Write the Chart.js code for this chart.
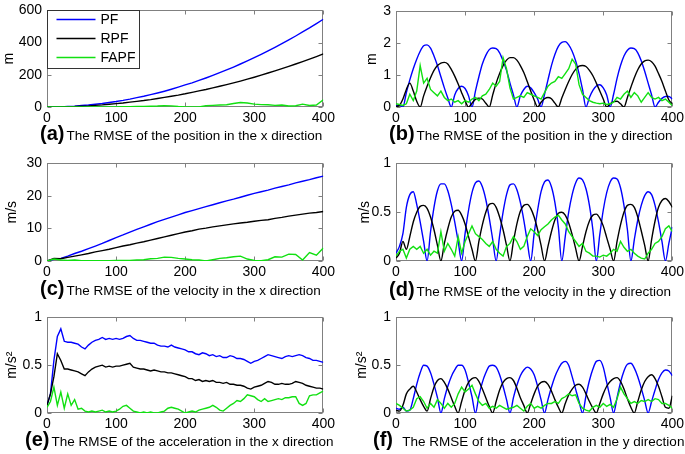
<!DOCTYPE html>
<html>
<head>
<meta charset="utf-8">
<script src="https://cdn.jsdelivr.net/npm/chart.js@4.4.1/dist/chart.umd.min.js"></script>
<style>
  body { margin: 0; background: #fff; width: 685px; height: 454px; position: relative; overflow: hidden; }
  canvas { position: absolute; }
  .cap { position: absolute; white-space: nowrap; line-height: 20px; font-family: "Liberation Sans", Arial, sans-serif; font-size: 13.5px; color: #000; }
  .cap b { font-size: 20px; margin-right: 2px; }
</style>
</head>
<body>
<canvas id="cA"></canvas>
<canvas id="cB"></canvas>
<canvas id="cC"></canvas>
<canvas id="cD"></canvas>
<canvas id="cE"></canvas>
<canvas id="cF"></canvas>

<div class="cap" style="left:40px;top:123px"><b>(a)</b>The RMSE of the position in the x direction</div>
<div class="cap" style="left:389px;top:123px"><b>(b)</b>The RMSE of the position in the y direction</div>
<div class="cap" style="left:40px;top:278px"><b>(c)</b>The RMSE of the velocity in the x direction</div>
<div class="cap" style="left:389px;top:279px"><b>(d)</b>The RMSE of the velocity in the y direction</div>
<div class="cap" style="left:25px;top:429px"><b>(e)</b>The RMSE of the acceleration in the x direction</div>
<div class="cap" style="left:373px;top:429px"><b>(f)</b>&nbsp; The RMSE of the acceleration in the y direction</div>

<script>
// time steps
const xCoarse = [0,10,20,30,40,50,60,70,80,90,
  100,110,120,130,140,150,160,170,180,190,
  200,210,220,230,240,250,260,270,280,290,
  300,310,320,330,340,350,360,370,380,390,
  400];
const xFine = [0,5,10,15,20,25,30,35,40,45,
  50,55,60,65,70,75,80,85,90,95,
  100,105,110,115,120,125,130,135,140,145,
  150,155,160,165,170,175,180,185,190,195,
  200,205,210,215,220,225,230,235,240,245,
  250,255,260,265,270,275,280,285,290,295,
  300,305,310,315,320,325,330,335,340,345,
  350,355,360,365,370,375,380,385,390,395,
  400];
const xTicks = [0, 100, 200, 300, 400];

const methods = ['PF', 'RPF', 'FAPF'];
const colors = ['#0000ff', '#000000', '#11e011'];

// (a) position x  (m)
const pfPosX = [0,0,1,3,5,9,12,17,22,28, 34,41,49,58,67,77,87,98,110,123,
  137,150,165,180,196,213,230,248,267,286, 306,327,349,371,394,417,441,466,491,518, 545];
const rpfPosX = [0,0,1,2,3,5,7,10,13,17, 21,25,30,35,40,46,53,60,67,74,
  82,91,100,109,119,129,139,150,161,173, 185,198,211,224,238,252,267,282,297,313, 330];
const fapfPosX = [0,0,0,0,0,0,0,0,1,1, 1,2,2,3,3,5,6,8,7,3,
  1,0,1,8,10,12,14,22,28,25, 18,15,14,10,12,6,8,18,9,12, 45];
const yTicksA = [0, 200, 400, 600];

// (b) position y  (m)
const pfPosY = [0.05,0.05,0.0,0.45,0.85,1.2,1.5,1.75,1.92,1.95,
  1.85,1.6,1.3,0.95,0.6,0.28,0.0,0.38,0.58,0.65,
  0.58,0.35,0.0,0.5,0.95,1.35,1.62,1.8,1.85,1.83,
  1.7,1.45,1.15,0.75,0.38,0.0,0.35,0.55,0.65,0.6,
  0.45,0.25,0.0,0.4,0.85,1.3,1.65,1.9,2.03,2.05,
  1.95,1.75,1.45,1.05,0.55,0.0,0.3,0.52,0.66,0.7,
  0.6,0.38,0.0,0.4,0.9,1.3,1.6,1.78,1.85,1.83,
  1.7,1.45,1.12,0.75,0.38,0.0,0.15,0.27,0.33,0.33,
  0.25];
const rpfPosY = [0.02,0.05,0.25,0.55,0.75,0.5,0.18,0.0,0.35,0.65,
  0.92,1.15,1.3,1.38,1.4,1.35,1.18,0.97,0.72,0.45,
  0.2,0.0,0.12,0.24,0.28,0.25,0.12,0.0,0.38,0.75,
  1.05,1.3,1.47,1.55,1.55,1.47,1.3,1.08,0.8,0.5,
  0.22,0.0,0.15,0.26,0.3,0.26,0.12,0.0,0.28,0.55,
  0.8,1.02,1.18,1.28,1.3,1.27,1.15,0.98,0.75,0.5,
  0.25,0.0,0.1,0.17,0.18,0.1,0.0,0.3,0.62,0.92,
  1.17,1.35,1.45,1.47,1.42,1.28,1.05,0.8,0.5,0.22,
  0.1];
const fapfPosY = [0.1,0.08,0.05,0.1,0.4,0.2,0.5,1.3,0.75,0.9,
  0.55,0.45,0.35,0.5,0.3,0.2,0.25,0.15,0.2,0.1,
  0.2,0.15,0.25,0.3,0.2,0.35,0.4,0.55,0.75,0.65,
  0.8,1.55,1.2,0.6,0.25,0.3,0.35,0.3,0.45,0.4,
  0.35,0.3,0.25,0.45,0.65,0.75,0.8,0.95,0.9,1.05,
  1.2,1.5,1.35,0.7,0.4,0.3,0.2,0.15,0.12,0.1,
  0.12,0.08,0.1,0.15,0.3,0.25,0.4,0.5,0.3,0.45,
  0.35,0.15,0.3,0.45,0.3,0.25,0.3,0.2,0.25,0.15,
  0.05];
const yTicksB = [0, 1, 2, 3];

// (c) velocity x  (m/s)
const pfVelX = [0,0.5,0.8,1.5,2.3,3.0,3.8,4.6,5.4,6.3, 7.2,8.0,8.9,9.7,10.5,11.3,12.1,12.8,13.5,14.2,
  14.9,15.5,16.1,16.7,17.3,17.9,18.5,19.0,19.6,20.2, 20.8,21.3,21.8,22.4,22.9,23.4,24.0,24.5,25.0,25.6, 26.1];
const rpfVelX = [0,0.8,0.7,1.1,1.5,1.9,2.3,2.8,3.2,3.6, 4.1,4.6,5.0,5.5,5.9,6.4,6.9,7.4,7.9,8.4,
  8.9,9.3,9.8,10.1,10.5,10.8,11.1,11.4,11.7,11.9, 12.2,12.5,12.7,13.1,13.4,13.8,14.1,14.4,14.7,14.9, 15.2];
const fapfVelX = [0,0.6,0.3,0.2,0.3,0.1,0.1,0.1,0.1,0.1, 0.2,0.2,0.2,0.3,0.4,0.7,0.8,1.2,1.1,0.8,
  0.6,0.4,0.3,0.0,0.4,0.8,1.0,1.3,1.5,0.6, 0.2,0.1,0.4,1.3,1.2,2.1,2.0,0.3,2.6,1.8, 4.0];
const yTicksC = [0, 10, 20, 30];

// (d) velocity y  (m/s)
const pfVelY = [0.08,0.15,0.28,0.55,0.68,0.71,0.58,0.4,0.2,0.0,
  0.3,0.55,0.72,0.79,0.79,0.72,0.58,0.4,0.2,0.0,
  0.28,0.52,0.7,0.8,0.82,0.76,0.63,0.44,0.22,0.0,
  0.26,0.5,0.68,0.78,0.79,0.73,0.6,0.42,0.2,0.0,
  0.28,0.52,0.71,0.81,0.83,0.76,0.6,0.35,0.0,0.25,
  0.5,0.68,0.8,0.85,0.83,0.74,0.57,0.32,0.0,0.27,
  0.52,0.7,0.81,0.85,0.84,0.75,0.57,0.32,0.0,0.22,
  0.42,0.57,0.67,0.71,0.68,0.57,0.4,0.2,0.0,0.18,
  0.35];
const rpfVelY = [0.03,0.08,0.2,0.12,0.25,0.4,0.5,0.56,0.57,0.54,
  0.45,0.32,0.16,0.0,0.18,0.33,0.45,0.51,0.52,0.47,
  0.38,0.25,0.12,0.0,0.2,0.37,0.5,0.58,0.59,0.55,
  0.45,0.32,0.16,0.0,0.2,0.38,0.51,0.57,0.58,0.54,
  0.45,0.32,0.16,0.0,0.15,0.3,0.42,0.49,0.5,0.47,
  0.39,0.27,0.13,0.0,0.15,0.3,0.41,0.47,0.48,0.44,
  0.36,0.24,0.12,0.0,0.2,0.37,0.5,0.57,0.58,0.55,
  0.45,0.31,0.16,0.0,0.22,0.41,0.55,0.62,0.64,0.61,
  0.55];
const fapfVelY = [0.05,0.1,0.12,0.03,0.12,0.15,0.12,0.15,0.08,0.12,
  0.06,0.1,0.08,0.3,0.1,0.18,0.12,0.05,0.25,0.08,
  0.2,0.28,0.36,0.28,0.25,0.22,0.18,0.15,0.2,0.12,
  0.08,0.05,0.15,0.18,0.25,0.2,0.12,0.15,0.25,0.33,
  0.3,0.26,0.32,0.35,0.38,0.42,0.45,0.47,0.42,0.38,
  0.3,0.25,0.2,0.15,0.18,0.1,0.08,0.05,0.05,0.04,
  0.06,0.05,0.08,0.12,0.1,0.2,0.14,0.1,0.12,0.08,
  0.05,0.03,0.02,0.08,0.12,0.18,0.2,0.25,0.33,0.36,
  0.3];
const yTicksUnit = [0, 0.5, 1];

// (e) acceleration x  (m/s^2)
const pfAccX = [0.08,0.2,0.55,0.8,0.88,0.75,0.74,0.74,0.73,0.72,
  0.69,0.67,0.71,0.74,0.76,0.77,0.79,0.77,0.78,0.77,
  0.78,0.77,0.78,0.8,0.81,0.78,0.76,0.76,0.75,0.74,
  0.73,0.73,0.71,0.7,0.7,0.69,0.71,0.69,0.68,0.67,
  0.66,0.64,0.64,0.62,0.61,0.63,0.62,0.6,0.61,0.59,
  0.6,0.58,0.58,0.6,0.59,0.57,0.57,0.56,0.54,0.52,
  0.54,0.55,0.57,0.59,0.61,0.6,0.59,0.58,0.57,0.59,
  0.6,0.59,0.6,0.61,0.6,0.58,0.57,0.55,0.55,0.54,
  0.53];
const rpfAccX = [0.08,0.2,0.38,0.62,0.55,0.46,0.46,0.45,0.44,0.43,
  0.41,0.39,0.43,0.46,0.48,0.49,0.5,0.48,0.49,0.48,
  0.49,0.49,0.5,0.51,0.52,0.48,0.47,0.46,0.46,0.45,
  0.44,0.45,0.44,0.43,0.43,0.42,0.42,0.41,0.4,0.39,
  0.38,0.36,0.36,0.34,0.35,0.33,0.34,0.33,0.34,0.32,
  0.32,0.31,0.32,0.3,0.3,0.29,0.29,0.28,0.26,0.25,
  0.27,0.28,0.29,0.31,0.33,0.32,0.3,0.3,0.31,0.3,
  0.3,0.31,0.33,0.32,0.31,0.29,0.28,0.27,0.26,0.26,
  0.25];
const fapfAccX = [0.06,0.12,0.27,0.08,0.22,0.05,0.2,0.08,0.14,0.04,
  0.05,0.02,0.01,0.02,0.01,0.02,0.03,0.01,0.02,0.01,
  0.02,0.04,0.07,0.08,0.05,0.02,0.01,0.0,0.01,0.0,
  0.01,0.0,0.0,0.01,0.02,0.05,0.06,0.05,0.04,0.02,
  0.0,0.01,0.02,0.01,0.03,0.04,0.05,0.06,0.08,0.06,
  0.03,0.02,0.05,0.08,0.1,0.13,0.12,0.15,0.19,0.18,
  0.17,0.14,0.12,0.15,0.12,0.13,0.14,0.15,0.14,0.16,
  0.16,0.17,0.17,0.1,0.08,0.1,0.18,0.19,0.19,0.21,
  0.23];

// (f) acceleration y  (m/s^2)
const pfAccY = [0.05,0.04,0.06,0.02,0.03,0.15,0.3,0.42,0.5,0.49,
  0.42,0.3,0.16,0.0,0.15,0.28,0.38,0.45,0.5,0.5,
  0.45,0.32,0.17,0.0,0.18,0.32,0.42,0.49,0.5,0.48,
  0.4,0.28,0.14,0.0,0.16,0.29,0.39,0.45,0.48,0.46,
  0.4,0.28,0.14,0.0,0.14,0.27,0.38,0.46,0.52,0.54,
  0.5,0.38,0.25,0.12,0.0,0.18,0.34,0.46,0.54,0.55,
  0.48,0.32,0.16,0.0,0.16,0.32,0.44,0.51,0.52,0.47,
  0.38,0.26,0.13,0.0,0.12,0.24,0.35,0.42,0.45,0.44,
  0.39];
const rpfAccY = [0.03,0.02,0.08,0.2,0.25,0.28,0.22,0.14,0.07,0.02,
  0.15,0.27,0.34,0.36,0.32,0.25,0.16,0.07,0.0,0.12,
  0.24,0.32,0.36,0.37,0.33,0.25,0.16,0.07,0.0,0.12,
  0.24,0.32,0.36,0.37,0.34,0.26,0.16,0.08,0.0,0.1,
  0.2,0.28,0.32,0.33,0.3,0.23,0.14,0.06,0.0,0.1,
  0.19,0.25,0.29,0.3,0.27,0.2,0.12,0.05,0.0,0.1,
  0.2,0.28,0.33,0.36,0.37,0.33,0.25,0.15,0.06,0.0,
  0.12,0.24,0.33,0.38,0.4,0.36,0.28,0.17,0.06,0.05,
  0.18];
const fapfAccY = [0.1,0.08,0.05,0.02,0.03,0.06,0.15,0.17,0.12,0.05,
  0.1,0.06,0.14,0.1,0.05,0.1,0.06,0.1,0.2,0.27,
  0.22,0.25,0.29,0.2,0.12,0.08,0.1,0.05,0.07,0.05,
  0.08,0.06,0.04,0.05,0.06,0.08,0.05,0.02,0.07,0.1,
  0.05,0.07,0.05,0.08,0.1,0.1,0.12,0.1,0.15,0.17,
  0.2,0.18,0.19,0.1,0.05,0.03,0.02,0.06,0.08,0.06,
  0.1,0.07,0.09,0.06,0.15,0.27,0.2,0.15,0.1,0.12,
  0.1,0.13,0.12,0.14,0.12,0.15,0.14,0.1,0.1,0.08,
  0.05];

const FONT = '"Liberation Sans", Arial, sans-serif';

// MATLAB-like frame with inward ticks
const frameBox = {
  id: 'frameBox',
  beforeDatasetsDraw(chart) {
    const { ctx, chartArea: a, scales: { x, y } } = chart;
    const L = Math.round(a.left) + 0.5, R = Math.round(a.right) - 0.5;
    const T = Math.round(a.top) + 0.5, B = Math.round(a.bottom) - 0.5;
    ctx.save();
    ctx.strokeStyle = '#808080';
    ctx.lineWidth = 1;
    ctx.strokeRect(L, T, R - L, B - T);
    ctx.beginPath();
    x.ticks.forEach(t => {
      const px = Math.round(x.getPixelForValue(t.value)) + 0.5;
      ctx.moveTo(px, B); ctx.lineTo(px, B - 4);
      ctx.moveTo(px, T); ctx.lineTo(px, T + 4);
    });
    y.ticks.forEach(t => {
      const py = Math.round(y.getPixelForValue(t.value)) + 0.5;
      ctx.moveTo(L, py); ctx.lineTo(L + 4, py);
      ctx.moveTo(R, py); ctx.lineTo(R - 4, py);
    });
    ctx.stroke();
    ctx.restore();
  }
};

const legendBox = {
  id: 'legendBox',
  afterDatasetsDraw(chart, args, opts) {
    if (!opts.show) return;
    const { ctx, chartArea: a } = chart;
    const x0 = Math.round(a.left) + 0.5, y0 = Math.round(a.top) + 0.5;
    ctx.save();
    ctx.fillStyle = '#fff';
    ctx.fillRect(x0, y0, 92, 58);
    ctx.strokeStyle = '#333';
    ctx.lineWidth = 1;
    ctx.strokeRect(x0, y0, 92, 58);
    ctx.font = '14px ' + FONT;
    ctx.textBaseline = 'middle';
    chart.data.datasets.forEach((ds, i) => {
      const yy = y0 + 9 + i * 19;
      ctx.strokeStyle = ds.borderColor;
      ctx.lineWidth = 1.5;
      ctx.beginPath();
      ctx.moveTo(x0 + 9, yy);
      ctx.lineTo(x0 + 48, yy);
      ctx.stroke();
      ctx.fillStyle = '#000';
      ctx.fillText(ds.label, x0 + 53, yy + 1);
    });
    ctx.restore();
  }
};

const panels = [
  { id: 'cA', left: 47, right: 324, top: 6, bottom: 107, axisW: 46, unit: 'm', yTicks: yTicksA, xs: xCoarse, series: [pfPosX, rpfPosX, fapfPosX], legend: true, smooth: false },
  { id: 'cB', left: 396, right: 673, top: 7, bottom: 107, axisW: 32, unit: 'm', yTicks: yTicksB, xs: xFine, series: [pfPosY, rpfPosY, fapfPosY], smooth: true },
  { id: 'cC', left: 47, right: 324, top: 159, bottom: 261, axisW: 43, unit: 'm/s', yTicks: yTicksC, xs: xCoarse, series: [pfVelX, rpfVelX, fapfVelX], smooth: false },
  { id: 'cD', left: 396, right: 673, top: 159, bottom: 261, axisW: 39, unit: 'm/s', yTicks: yTicksUnit, xs: xFine, series: [pfVelY, rpfVelY, fapfVelY], smooth: true },
  { id: 'cE', left: 47, right: 324, top: 313, bottom: 413, axisW: 43, unit: 'm/s²', yTicks: yTicksUnit, xs: xFine, series: [pfAccX, rpfAccX, fapfAccX], smooth: false },
  { id: 'cF', left: 396, right: 673, top: 313, bottom: 413, axisW: 42, unit: 'm/s²', yTicks: yTicksUnit, xs: xFine, series: [pfAccY, rpfAccY, fapfAccY], smooth: true }
];

const PAD_TOP = 9, PAD_RIGHT = 14, X_AXIS_H = 22;

panels.forEach(p => {
  const cv = document.getElementById(p.id);
  const w = p.right - p.left + p.axisW + PAD_RIGHT;
  const h = p.bottom - p.top + PAD_TOP + X_AXIS_H;
  cv.width = w; cv.height = h;
  cv.style.left = (p.left - p.axisW) + 'px';
  cv.style.top = (p.top - PAD_TOP) + 'px';

  const datasets = p.series.map((arr, i) => ({
    label: methods[i],
    data: p.xs.map((x, j) => ({ x: x, y: arr[j] })),
    borderColor: colors[i],
    borderWidth: 1.4,
    pointRadius: 0,
    cubicInterpolationMode: (p.smooth && i < 2) ? 'monotone' : 'default',
    tension: 0,
    order: 3 - i
  }));

  new Chart(cv, {
    type: 'line',
    data: { datasets },
    options: {
      responsive: false,
      animation: false,
      layout: { padding: { top: PAD_TOP, right: PAD_RIGHT, left: 0, bottom: 0 } },
      plugins: {
        legend: { display: false },
        tooltip: { enabled: false },
        legendBox: { show: !!p.legend }
      },
      scales: {
        x: {
          type: 'linear',
          min: 0, max: 400,
          afterBuildTicks: s => { s.ticks = xTicks.map(v => ({ value: v })); },
          afterFit: s => { s.height = X_AXIS_H; },
          grid: { display: false, drawTicks: false },
          border: { display: false },
          ticks: { color: '#000', padding: 3, maxRotation: 0, font: { family: FONT, size: 14 } }
        },
        y: {
          min: p.yTicks[0], max: p.yTicks[p.yTicks.length - 1],
          afterBuildTicks: s => { s.ticks = p.yTicks.map(v => ({ value: v })); },
          afterFit: s => { s.width = p.axisW; },
          grid: { display: false, drawTicks: false },
          border: { display: false },
          ticks: { color: '#000', padding: 5, font: { family: FONT, size: 14 }, callback: v => String(v) },
          title: { display: true, text: p.unit, color: '#000', padding: 0, font: { family: FONT, size: 14 } }
        }
      }
    },
    plugins: [frameBox, legendBox]
  });
});
</script>
</body>
</html>
